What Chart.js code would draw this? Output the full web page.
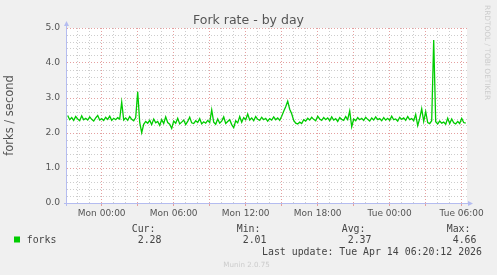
<!DOCTYPE html>
<html>
<head>
<meta charset="utf-8">
<title>Fork rate - by day</title>
<script src="https://cdn.jsdelivr.net/npm/chart.js@4.4.1/dist/chart.umd.min.js"></script>
<style>
    html, body { margin: 0; padding: 0; background: #f0f0f0; }
    #wrap { width: 497px; height: 275px; }
</style>
</head>
<body>
<div id="wrap"><canvas id="chart" width="497" height="275"></canvas></div>
<script>
// forks per second, 10 minute samples, minutes relative to Mon 00:00
const startMinute = -170;
const stepMinutes = 10;
const forks = [
    2.50, 2.38, 2.44, 2.36, 2.47, 2.40, 2.35, 2.49, 2.38, 2.42,
    2.37, 2.46, 2.39, 2.34, 2.43, 2.50, 2.37, 2.41, 2.36, 2.45,
    2.39, 2.48, 2.36, 2.42, 2.38, 2.44, 2.40, 2.88, 2.37, 2.43,
    2.36, 2.47, 2.39, 2.35, 2.44, 3.18, 2.30, 2.01, 2.25, 2.33,
    2.28, 2.36, 2.24, 2.40, 2.29, 2.33, 2.22, 2.38, 2.27, 2.46,
    2.30, 2.25, 2.13, 2.34, 2.28, 2.42, 2.26, 2.31, 2.37, 2.24,
    2.33, 2.45, 2.29, 2.27, 2.35, 2.30, 2.41, 2.26, 2.32, 2.28,
    2.36, 2.30, 2.66, 2.31, 2.25, 2.40, 2.28, 2.34, 2.46, 2.27,
    2.33, 2.38, 2.24, 2.15, 2.35, 2.29, 2.47, 2.31, 2.44, 2.38,
    2.54, 2.37, 2.43, 2.35, 2.47, 2.39, 2.36, 2.45, 2.38, 2.42,
    2.34, 2.41, 2.37, 2.46, 2.38, 2.43, 2.36, 2.48, 2.62, 2.75,
    2.91, 2.68, 2.55, 2.36, 2.28, 2.26, 2.31, 2.27, 2.38, 2.34,
    2.42, 2.37, 2.45, 2.39, 2.35, 2.48, 2.40, 2.36, 2.44, 2.38,
    2.43, 2.35, 2.46, 2.37, 2.41, 2.33, 2.44, 2.39, 2.36, 2.47,
    2.38, 2.63, 2.18, 2.40, 2.35, 2.44, 2.38, 2.42, 2.36, 2.45,
    2.39, 2.34, 2.43, 2.37, 2.46, 2.38, 2.41, 2.35, 2.44, 2.37,
    2.42, 2.36, 2.48, 2.38, 2.40, 2.34, 2.45, 2.39, 2.43, 2.36,
    2.47, 2.38, 2.41, 2.35, 2.53, 2.21, 2.42, 2.69, 2.33, 2.61,
    2.30, 2.27, 2.35, 4.66, 2.32, 2.26, 2.34, 2.28, 2.31, 2.25,
    2.42, 2.27, 2.40, 2.29, 2.26, 2.33, 2.27, 2.42, 2.30, 2.28
];

const xMin = -173.5;
const xMax = 1826.5;
const timeTicks = [0, 360, 720, 1080, 1440, 1800];
const timeLabels = ['Mon 00:00', 'Mon 06:00', 'Mon 12:00', 'Mon 18:00', 'Tue 00:00', 'Tue 06:00'];
const yMax = 5;

const statNames = ['Cur:', 'Min:', 'Avg:', 'Max:'];
const statValues = ['2.28', '2.01', '2.37', '4.66'];
const lastUpdate = 'Last update: Tue Apr 14 06:20:12 2026';

const GREEN = '#00cc00';
const MAJOR = 'rgba(226, 150, 150, 0.9)';
const MINOR = 'rgba(200, 200, 200, 0.9)';
const AXIS = '#b4bcf0';
const TEXT = '#555555';

function isMultiple(v, step) {
    const r = v / step;
    return Math.abs(r - Math.round(r)) < 1e-6;
}

// plot box taken from the scales themselves
function plotBox(chart) {
    const {x, y} = chart.scales;
    return {
        left: x.getPixelForValue(xMin),
        right: x.getPixelForValue(xMax),
        top: y.getPixelForValue(yMax),
        bottom: y.getPixelForValue(0)
    };
}

const munin = {
    id: 'munin',
    beforeDraw(chart) {
        const {ctx} = chart;
        const a = plotBox(chart);
        ctx.save();
        ctx.fillStyle = '#f0f0f0';
        ctx.fillRect(0, 0, chart.width, chart.height);
        ctx.fillStyle = '#ffffff';
        ctx.fillRect(a.left, a.top, a.right - a.left, a.bottom - a.top);
        ctx.restore();
    },
    afterDraw(chart) {
        const {ctx} = chart;
        const a = plotBox(chart);
        ctx.save();

        // axis lines with arrows
        ctx.strokeStyle = AXIS;
        ctx.fillStyle = AXIS;
        ctx.lineWidth = 1;
        ctx.beginPath();
        ctx.moveTo(a.left - 0.5, a.bottom + 3);
        ctx.lineTo(a.left - 0.5, a.top - 3);
        ctx.moveTo(a.left - 3, a.bottom + 0.5);
        ctx.lineTo(a.right + 2, a.bottom + 0.5);
        ctx.stroke();
        ctx.beginPath();
        ctx.moveTo(a.left - 3, a.top - 2);
        ctx.lineTo(a.left + 2, a.top - 2);
        ctx.lineTo(a.left - 0.5, a.top - 7);
        ctx.closePath();
        ctx.fill();
        ctx.beginPath();
        ctx.moveTo(a.right + 1, a.bottom - 2);
        ctx.lineTo(a.right + 1, a.bottom + 3);
        ctx.lineTo(a.right + 6, a.bottom + 0.5);
        ctx.closePath();
        ctx.fill();

        // title
        ctx.fillStyle = TEXT;
        ctx.font = '12.5px "DejaVu Sans"';
        ctx.textAlign = 'center';
        ctx.textBaseline = 'alphabetic';
        ctx.fillText('Fork rate - by day', 248.5, 24);

        // rrdtool credit
        ctx.save();
        ctx.translate(485, 5);
        ctx.rotate(Math.PI / 2);
        ctx.fillStyle = '#cccccc';
        ctx.font = '7.4px "DejaVu Sans"';
        ctx.textAlign = 'left';
        ctx.fillText('RRDTOOL / TOBI OETIKER', 0, 0);
        ctx.restore();

        // legend
        ctx.fillStyle = GREEN;
        ctx.fillRect(14, 236.5, 6, 6);
        ctx.fillStyle = '#444444';
        ctx.font = '9.9px "DejaVu Sans Mono"';
        ctx.textAlign = 'left';
        ctx.fillText('forks', 26.7, 242.5);
        statNames.forEach((name, i) => {
            const x = 131.7 + i * 105;
            ctx.fillText(name, x, 231.5);
            ctx.fillText(statValues[i], x + 6, 243);
        });
        ctx.fillText(lastUpdate, 262, 255);

        ctx.fillStyle = '#cccccc';
        ctx.font = '7.1px "DejaVu Sans"';
        ctx.fillText('Munin 2.0.75', 223.3, 267);
        ctx.restore();
    }
};

const ctx = document.getElementById('chart').getContext('2d');
new Chart(ctx, {
    type: 'line',
    data: {
        datasets: [{
            label: 'forks',
            data: forks.map((v, i) => ({x: startMinute + i * stepMinutes, y: v})),
            borderColor: GREEN,
            borderWidth: 1.3,
            pointRadius: 0,
            tension: 0,
            fill: false
        }]
    },
    options: {
        responsive: false,
        animation: false,
        events: [],
        layout: { padding: { top: 28, right: 30, left: 0, bottom: 0 } },
        plugins: {
            legend: { display: false },
            title: { display: false },
            tooltip: { enabled: false }
        },
        scales: {
            x: {
                type: 'linear',
                min: xMin,
                max: xMax,
                afterBuildTicks(scale) {
                    const ticks = [];
                    for (let m = -120; m <= 1800; m += 60) ticks.push({value: m});
                    scale.ticks = ticks;
                },
                afterFit(scale) { scale.height = 72; },
                ticks: {
                    autoSkip: false,
                    maxRotation: 0,
                    padding: 2.5,
                    color: TEXT,
                    font: { family: 'DejaVu Sans', size: 9 },
                    callback(value) {
                        const k = timeTicks.indexOf(value);
                        return k >= 0 ? timeLabels[k] : '';
                    }
                },
                grid: {
                    color: c => isMultiple(c.tick.value, 180) ? MAJOR : MINOR,
                    tickColor: c => isMultiple(c.tick.value, 180) ? MAJOR : 'rgba(0,0,0,0)',
                    tickLength: 3,
                    lineWidth: 1
                },
                border: { display: false, dash: [1, 2] }
            },
            y: {
                type: 'linear',
                min: 0,
                max: yMax,
                afterBuildTicks(scale) {
                    const ticks = [];
                    for (let k = 0; k <= yMax * 5; k++) ticks.push({value: k / 5});
                    scale.ticks = ticks;
                },
                afterFit(scale) { scale.width = 67; },
                ticks: {
                    autoSkip: false,
                    padding: 7,
                    color: TEXT,
                    font: { family: 'DejaVu Sans', size: 9.2 },
                    callback(value) {
                        return isMultiple(value, 1) ? value.toFixed(1) : '';
                    }
                },
                grid: {
                    color: c => isMultiple(c.tick.value, 1) ? MAJOR : MINOR,
                    drawTicks: false,
                    lineWidth: 1
                },
                border: { display: false, dash: [1, 2] },
                title: {
                    display: true,
                    text: 'forks / second',
                    color: TEXT,
                    font: { family: 'DejaVu Sans', size: 11.5 },
                    padding: { top: 3, bottom: 0 }
                }
            }
        }
    },
    plugins: [munin]
});
</script>
</body>
</html>
